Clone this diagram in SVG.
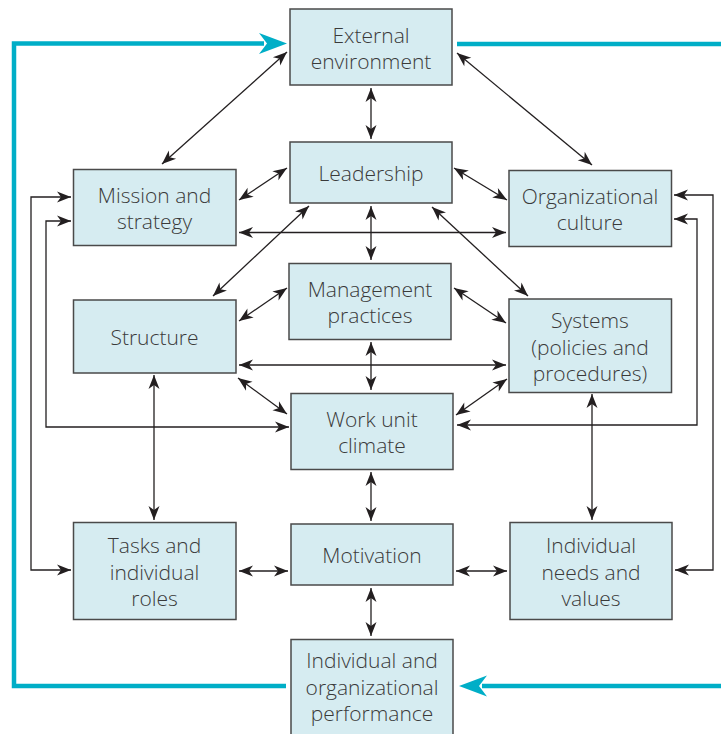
<svg xmlns="http://www.w3.org/2000/svg" width="721" height="734" viewBox="0 0 721 734">
  <style>
    .box rect { fill: #d6ecf1; stroke: #4a4a4a; stroke-width: 1.5; }
    .box text { font-family: "Open Sans", "Noto Sans", "Liberation Sans", sans-serif; font-size: 21px; fill: #3a3a3a; text-anchor: middle; font-weight: 300; }
    .link { fill: none; stroke: #231f20; stroke-width: 1.3; marker-start: url(#tip); marker-end: url(#tip); }
    .loop { fill: none; stroke: #00aec7; stroke-width: 4.5; }
    .loophead { fill: #00aec7; }
  </style>
  <defs>
    <marker id="tip" viewBox="-15 -6 16 12" refX="0" refY="0" markerWidth="16" markerHeight="12" markerUnits="userSpaceOnUse" orient="auto-start-reverse">
      <path d="M0,0 L-14,-5.5 L-10,0 L-14,5.5 z" fill="#231f20"/>
    </marker>
  </defs>

  <!-- feedback loop from performance back to the external environment -->
  <g id="feedback">
    <path class="loop" d="M286,686 H14 V43.5 H264"/>
    <path class="loophead" d="M287,43.5 L259,33 L267,43.5 L259,54 z"/>
    <path class="loop" d="M457,44 H721"/>
    <path class="loop" d="M721,686 H482"/>
    <path class="loophead" d="M459,686 L487,675.5 L479,686 L487,696.5 z"/>
  </g>

  <!-- connectors -->
  <g id="connectors">
    <line class="link" x1="287" y1="52" x2="162" y2="164"/>
    <line class="link" x1="371" y1="88" x2="371" y2="139"/>
    <line class="link" x1="457" y1="53" x2="592" y2="165"/>
    <line class="link" x1="287" y1="168" x2="239" y2="200"/>
    <line class="link" x1="454" y1="168" x2="507" y2="200"/>
    <line class="link" x1="239" y1="232.5" x2="506" y2="232.5"/>
    <line class="link" x1="309" y1="206" x2="213" y2="296"/>
    <line class="link" x1="432" y1="207" x2="528" y2="296"/>
    <line class="link" x1="371" y1="206" x2="371" y2="260"/>
    <line class="link" x1="287" y1="288" x2="239" y2="321"/>
    <line class="link" x1="454" y1="288" x2="506" y2="323"/>
    <line class="link" x1="239" y1="365" x2="506" y2="365"/>
    <line class="link" x1="371" y1="342" x2="371" y2="390"/>
    <line class="link" x1="238" y1="378" x2="287" y2="414"/>
    <line class="link" x1="507" y1="379" x2="456" y2="415"/>
    <polyline class="link" points="71,221 46,221 46,427 289,427"/>
    <polyline class="link" points="71,197 31,197 31,570 71,570"/>
    <polyline class="link" points="674,195 713,195 713,570 675,570"/>
    <polyline class="link" points="674,219 697,219 697,425 457,425"/>
    <line class="link" x1="154" y1="375" x2="154" y2="520"/>
    <line class="link" x1="592" y1="394" x2="592" y2="520"/>
    <line class="link" x1="371" y1="472" x2="371" y2="521"/>
    <line class="link" x1="239" y1="571" x2="288" y2="571"/>
    <line class="link" x1="456" y1="571" x2="507" y2="571"/>
    <line class="link" x1="371" y1="588" x2="371" y2="636"/>
  </g>

  <!-- nodes -->
  <g id="external" class="box">
    <rect x="290" y="9" width="162" height="76"/>
    <text x="371" y="42.5">External</text>
    <text x="371" y="69">environment</text>
  </g>
  <g id="leadership" class="box">
    <rect x="290" y="142" width="162" height="61"/>
    <text x="371" y="181">Leadership</text>
  </g>
  <g id="mission" class="box">
    <rect x="73.5" y="169.5" width="162.5" height="76"/>
    <text x="154.5" y="202.5">Mission and</text>
    <text x="154.5" y="229">strategy</text>
  </g>
  <g id="culture" class="box">
    <rect x="509" y="170.5" width="162.5" height="76"/>
    <text x="590" y="203.5">Organizational</text>
    <text x="590" y="230">culture</text>
  </g>
  <g id="management" class="box">
    <rect x="289" y="263.5" width="162" height="76"/>
    <text x="370" y="296.5">Management</text>
    <text x="370" y="323">practices</text>
  </g>
  <g id="structure" class="box">
    <rect x="73.5" y="300" width="162.5" height="73"/>
    <text x="154.5" y="345">Structure</text>
  </g>
  <g id="systems" class="box">
    <rect x="509" y="299" width="162.5" height="93.5"/>
    <text x="590" y="328">Systems</text>
    <text x="590" y="354.5">(policies and</text>
    <text x="590" y="381">procedures)</text>
  </g>
  <g id="climate" class="box">
    <rect x="291" y="393.5" width="162" height="76"/>
    <text x="372" y="426.5">Work unit</text>
    <text x="372" y="453">climate</text>
  </g>
  <g id="tasks" class="box">
    <rect x="73.5" y="522.5" width="162.5" height="97"/>
    <text x="154.5" y="553">Tasks and</text>
    <text x="154.5" y="579.5">individual</text>
    <text x="154.5" y="606">roles</text>
  </g>
  <g id="motivation" class="box">
    <rect x="291" y="524" width="162" height="61"/>
    <text x="372" y="563">Motivation</text>
  </g>
  <g id="needs" class="box">
    <rect x="510" y="522.5" width="162" height="97"/>
    <text x="591" y="553">Individual</text>
    <text x="591" y="579.5">needs and</text>
    <text x="591" y="606">values</text>
  </g>
  <g id="performance" class="box">
    <rect x="291" y="639.5" width="162" height="104"/>
    <text x="372" y="668">Individual and</text>
    <text x="372" y="694.5">organizational</text>
    <text x="372" y="721">performance</text>
  </g>
</svg>
